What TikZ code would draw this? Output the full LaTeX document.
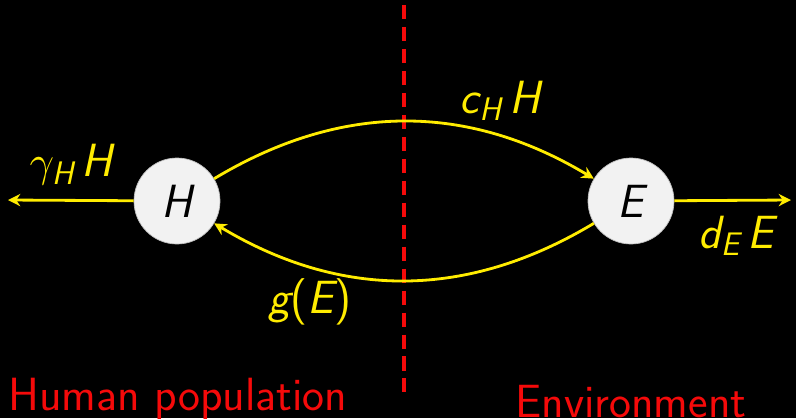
\documentclass[tikz,border=0pt]{standalone}
\usepackage{amsmath}
\usepackage{tikz}
\usetikzlibrary{arrows.meta,positioning,calc}
\definecolor{flowyellow}{RGB}{255,236,0}
\definecolor{borderred}{RGB}{245,10,10}
\definecolor{compgray}{RGB}{242,242,242}
\newcommand{\sv}[1]{\text{\sffamily\itshape #1}}
\newcommand{\su}[1]{\text{\sffamily #1}}

\begin{document}
\begin{tikzpicture}[
        font=\fontsize{26.5}{30}\selectfont\sffamily,
        comp/.style={circle, fill=compgray, draw=gray!50, thin, minimum size=1.72cm, inner sep=0pt},
        flow/.style={draw=flowyellow, line width=1.6pt, -{Stealth[length=7pt,width=7pt]}},
        rate/.style={text=flowyellow, inner sep=0pt},
        side/.style={text=borderred, inner sep=0pt}
    ]
        \fill[black] (0,0) rectangle (15.92,-8.36);
        \useasboundingbox (0,0) rectangle (15.92,-8.36);
        % compartments
        \node[comp] (hum) at (3.54,-4.02) {$\sv{H}$};
        \node[comp] (env) at (12.62,-4.02) {$\sv{E}$};
        % boundary
        \coordinate (top) at (8.08,-0.1);
        \coordinate (bot) at (8.08,-8.0);
        \draw[borderred, line width=2.1pt, dash pattern=on 8pt off 4.5pt] (top) -- (bot);
        % outflows
        \coordinate (hout) at (0.16,-4.0);
        \coordinate (eout) at (15.82,-4.0);
        \draw[flow] (hum) -- (hout);
        \draw[flow] (env) -- (eout);
        % exchange
        \draw[flow] (hum) to[bend left=31] (env);
        \draw[flow] (env) to[bend left=31] (hum);
        % rates
        \node[rate] (gam) at (1.42,-3.3) {$\gamma_{\sv{H}}\,\sv{H}$};
        \node[rate] (cH) at (10.0,-2.02) {$\sv{c}_{\sv{H}}\,\sv{H}$};
        \node[rate] (dE) at (14.72,-4.72) {$\sv{d}_{\sv{E}}\,\sv{E}$};
        \node[rate] (gE) at (6.2,-6.04) {$\sv{g}\su{(}\sv{E}\su{)}$};
        % sides
        \node[side, anchor=base west] (hpop) at (0.16,-8.2) {Human population};
        \node[side, anchor=base] (envr) at (12.62,-8.34) {Environment};
    \end{tikzpicture}
\end{document}
